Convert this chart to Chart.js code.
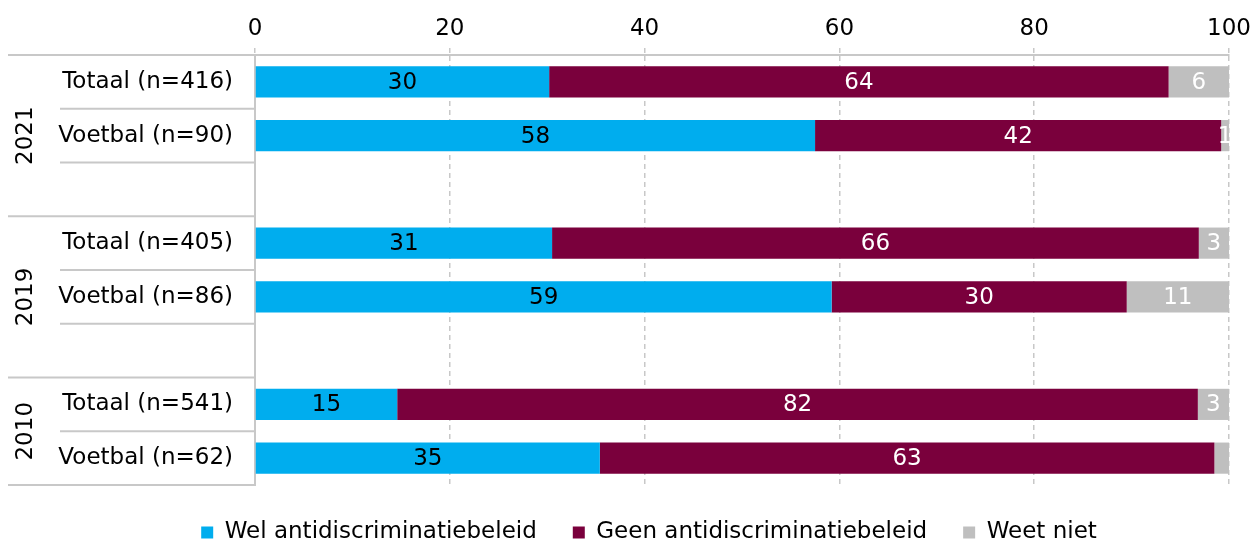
<!DOCTYPE html>
<html>
<head>
<meta charset="utf-8">
<script src="https://cdn.jsdelivr.net/npm/chart.js@4.4.1/dist/chart.umd.min.js"></script>
<style>
  html, body { margin: 0; padding: 0; background: #fff; }
</style>
</head>
<body>
<canvas id="beleidChart" width="1253" height="545"></canvas>
<script>
// rows of the chart, blank rows separate the years
const rowLabels = ["Totaal (n=416)", "Voetbal (n=90)", "", "Totaal (n=405)", "Voetbal (n=86)", "", "Totaal (n=541)", "Voetbal (n=62)"];
const years = ["2021", "2019", "2010"];
const yearRows = [[0, 2], [3, 5], [6, 7]]; // first and last row of each year

const seriesNames = ["Wel antidiscriminatiebeleid", "Geen antidiscriminatiebeleid", "Weet niet"];

// percentages
const welValues = [30.2, 57.5, null, 30.5, 59.2, null, 14.6, 35.4];
const geenValues = [63.6, 41.7, null, 66.4, 30.3, null, 82.2, 63.1];
const weetNietValues = [6.2, 0.8, null, 3.1, 10.5, null, 3.2, 1.5];

// numbers printed in the bars
const welLabels = ["30", "58", null, "31", "59", null, "15", "35"];
const geenLabels = ["64", "42", null, "66", "30", null, "82", "63"];
const weetNietLabels = ["6", "1", null, "3", "11", null, "3", null];

const xTicks = [0, 20, 40, 60, 80, 100];

const FONT = "'DejaVu Sans', Verdana, sans-serif";
const FONT_SIZE = 23;
const lineGrey = "#c8c8c8";

// values inside the bar segments
const segmentLabels = {
  id: "segmentLabels",
  afterDatasetsDraw(chart) {
    const ctx = chart.ctx;
    ctx.save();
    ctx.font = FONT_SIZE + "px " + FONT;
    ctx.textAlign = "center";
    ctx.textBaseline = "middle";
    chart.data.datasets.forEach((ds, i) => {
      const meta = chart.getDatasetMeta(i);
      meta.data.forEach((bar, j) => {
        const txt = ds.valueLabels[j];
        if (!txt) return;
        const p = bar.getProps(["x", "y", "base"], true);
        ctx.fillStyle = ds.labelColor;
        ctx.fillText(txt, (p.x + p.base) / 2, p.y + 1);
      });
    });
    ctx.restore();
  }
};

// year labels and separator lines left of the plot
const yearGroups = {
  id: "yearGroups",
  afterLayout(chart) {
    // legend sits a bit right of the canvas centre
    chart.legend.left += 61;
  },
  afterDraw(chart) {
    const ctx = chart.ctx;
    const y = chart.scales.y;
    const axisX = chart.chartArea.left;
    const step = y.getPixelForValue(1) - y.getPixelForValue(0);
    const edge = (row) => y.getPixelForValue(row) - step / 2;

    ctx.save();
    ctx.strokeStyle = lineGrey;
    ctx.lineWidth = 2;
    yearRows.forEach(([first, last], g) => {
      // full line above the group
      ctx.beginPath();
      ctx.moveTo(8, edge(first));
      ctx.lineTo(axisX, edge(first));
      ctx.stroke();
      // short lines between the rows
      for (let r = first + 1; r <= last; r++) {
        ctx.beginPath();
        ctx.moveTo(60, edge(r));
        ctx.lineTo(axisX, edge(r));
        ctx.stroke();
      }
      if (g === yearRows.length - 1) {
        ctx.beginPath();
        ctx.moveTo(8, edge(last + 1));
        ctx.lineTo(axisX, edge(last + 1));
        ctx.stroke();
      }
    });

    ctx.fillStyle = "#000";
    ctx.font = FONT_SIZE + "px " + FONT;
    ctx.textAlign = "center";
    ctx.textBaseline = "middle";
    yearRows.forEach(([first, last], g) => {
      const mid = (edge(first) + edge(last + 1)) / 2;
      ctx.save();
      ctx.translate(26, mid);
      ctx.rotate(-Math.PI / 2);
      ctx.fillText(years[g], 0, 0);
      ctx.restore();
    });
    ctx.restore();
  }
};

const ctx = document.getElementById("beleidChart").getContext("2d");
new Chart(ctx, {
  type: "bar",
  data: {
    labels: rowLabels,
    datasets: [
      { label: seriesNames[0], data: welValues, backgroundColor: "#00adee", valueLabels: welLabels, labelColor: "#000" },
      { label: seriesNames[1], data: geenValues, backgroundColor: "#7a003c", valueLabels: geenLabels, labelColor: "#fff" },
      { label: seriesNames[2], data: weetNietValues, backgroundColor: "#bfbfbf", valueLabels: weetNietLabels, labelColor: "#fff" }
    ]
  },
  options: {
    indexAxis: "y",
    responsive: false,
    animation: false,
    devicePixelRatio: 1,
    layout: { padding: { left: 8, right: 24, top: 0, bottom: -9 } },
    datasets: { bar: { categoryPercentage: 1, barPercentage: 0.58 } },
    scales: {
      x: {
        position: "top",
        stacked: true,
        min: 0,
        max: 100,
        afterBuildTicks: (scale) => { scale.ticks = xTicks.map((v) => ({ value: v })); },
        afterFit: (scale) => {
          scale.height = 55;
          scale.paddingLeft = 0;
          scale.paddingRight = 0;
        },
        ticks: { color: "#000", font: { family: FONT, size: FONT_SIZE }, padding: 5 },
        grid: { color: lineGrey, lineWidth: 1.5, tickLength: 7, tickBorderDash: [5, 4] },
        border: { display: true, color: lineGrey, width: 2, dash: [5, 4] }
      },
      y: {
        stacked: true,
        afterFit: (scale) => { scale.width = 247; },
        ticks: { color: "#000", font: { family: FONT, size: FONT_SIZE }, padding: 22 },
        grid: { display: false, drawTicks: false },
        border: { display: true, color: lineGrey, width: 2 }
      }
    },
    plugins: {
      legend: {
        position: "bottom",
        labels: {
          color: "#000",
          font: { family: FONT, size: FONT_SIZE },
          boxWidth: 12,
          boxHeight: 12,
          padding: 36
        }
      },
      tooltip: { enabled: false }
    }
  },
  plugins: [segmentLabels, yearGroups]
});
</script>
</body>
</html>
